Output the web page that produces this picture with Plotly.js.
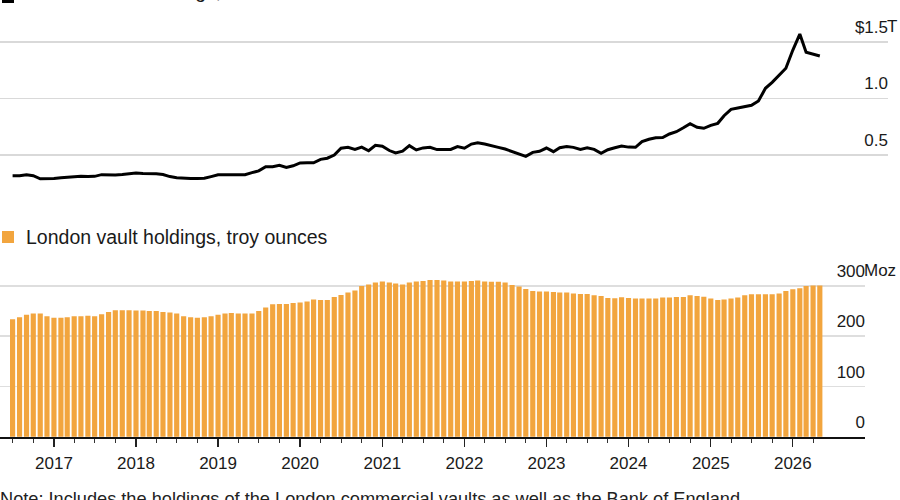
<!DOCTYPE html>
<html>
<head>
<meta charset="utf-8">
<script src="https://cdn.plot.ly/plotly-3.0.1.min.js"></script>
<style>
  html, body { margin: 0; padding: 0; background: #ffffff; }
  #chart { width: 900px; height: 500px; }
</style>
</head>
<body>
<div id="chart"></div>
<script>
// Monthly series, first month July 2016
const firstMonth = { year: 2016, month: 7 };

// Value of the holdings, trillions of US dollars
const valueTrillions = [
  0.318, 0.318, 0.327, 0.318, 0.290, 0.289, 0.293, 0.300, 0.305, 0.312, 0.313, 0.310,
  0.312, 0.327, 0.325, 0.325, 0.328, 0.335, 0.341, 0.337, 0.337, 0.334, 0.328, 0.310,
  0.300, 0.294, 0.292, 0.292, 0.295, 0.310, 0.326, 0.327, 0.325, 0.324, 0.326, 0.345,
  0.360, 0.397, 0.397, 0.410, 0.390, 0.405, 0.430, 0.432, 0.432, 0.462, 0.472, 0.500,
  0.560, 0.568, 0.550, 0.570, 0.538, 0.586, 0.578, 0.540, 0.518, 0.535, 0.583, 0.545,
  0.563, 0.568, 0.548, 0.550, 0.550, 0.575, 0.560, 0.597, 0.609, 0.597, 0.580, 0.568,
  0.553, 0.533, 0.509, 0.489, 0.524, 0.533, 0.562, 0.530, 0.565, 0.575, 0.568, 0.550,
  0.565, 0.550, 0.515, 0.547, 0.565, 0.580, 0.570, 0.568, 0.618, 0.639, 0.652, 0.655,
  0.686, 0.706, 0.741, 0.777, 0.745, 0.736, 0.762, 0.780, 0.847, 0.903, 0.915, 0.927,
  0.939, 0.977, 1.089, 1.142, 1.204, 1.266, 1.427, 1.568, 1.407, 1.392, 1.374
];

// London vault holdings, millions of troy ounces
const holdingsMoz = [
  234, 238, 243, 245, 245, 240, 237, 237, 238, 240, 240, 241,
  240, 244, 248, 251.5, 251.5, 251.5, 251, 251, 250, 250, 248, 247,
  245, 240, 238, 237, 238, 240, 243, 245, 246, 245, 245, 245,
  250, 257, 263.5, 264, 264, 266, 267, 269, 273, 272, 272, 278,
  282, 287, 291, 300, 303, 307, 309, 307, 305, 303, 307, 309,
  310, 312, 312, 311, 309, 309, 309, 310, 311, 309, 308.5, 308.5,
  307, 302, 299, 294, 290, 289, 289, 288, 287, 287, 285, 284,
  284, 281.5, 280, 276, 275.5, 277.5, 276, 275, 275, 275, 275, 277,
  277, 278, 278, 281.5, 280, 278.5, 275, 272, 273, 275, 277, 281.5,
  283.5, 283.5, 283.5, 283.5, 285, 290, 293.5, 295.5, 300, 301, 301
];

// Axis labels
const yearTicks = ['2017', '2018', '2019', '2020', '2021', '2022', '2023', '2024', '2025', '2026'];
const valueTickVals = [0.5, 1.0, 1.5];
const valueTickText = ['0.5', '1.0', '$1.5'];
const ozTickVals = [0, 100, 200, 300];
const ozTickText = ['0', '100', '200', '300'];

const valueLegendText = 'London vault holdings, value';
const holdingsLegendText = 'London vault holdings, troy ounces';
const noteText = 'Note: Includes the holdings of the London commercial vaults as well as the Bank of England';

const lineColor = '#000000';
const barColor = '#F2A53E';

// Month dates for both series
function pad(n) { return (n < 10 ? '0' : '') + n; }
const months = holdingsMoz.map((_, i) => {
  const m0 = firstMonth.month - 1 + i;
  const y = firstMonth.year + Math.floor(m0 / 12);
  return y + '-' + pad((m0 % 12) + 1) + '-01';
});

// Quarterly minor ticks within the data span
const quarterTicks = months.filter(d => ['01', '04', '07', '10'].includes(d.slice(5, 7)));
const yearTickVals = yearTicks.map(y => y + '-01-01');

// Shared time scale: both panels use the same pixels per day
const bottomRight = 865 / 900;
const topRight = 888 / 900;
const t0 = Date.parse('2016-05-06T00:00:00Z');
const t1 = Date.parse('2026-11-18T00:00:00Z');
const tTop = t0 + (t1 - t0) * (topRight / bottomRight);
function fmt(t) { return new Date(t).toISOString().replace('T', ' ').replace('Z', ''); }

const font = 'Liberation Sans, Arial, Helvetica, sans-serif';
const ink = '#1a1a1a';

const traces = [
  {
    type: 'scatter',
    mode: 'lines',
    x: months,
    y: valueTrillions,
    xaxis: 'x',
    yaxis: 'y',
    line: { color: lineColor, width: 3, shape: 'linear' },
    showlegend: false,
    hoverinfo: 'skip'
  },
  {
    type: 'bar',
    x: months,
    y: holdingsMoz,
    xaxis: 'x2',
    yaxis: 'y2',
    name: holdingsLegendText,
    marker: { color: barColor, line: { width: 0 } },
    showlegend: false,
    hoverinfo: 'skip'
  }
];

const valueAxisStyle = {
  side: 'right',
  ticks: '',
  showline: false,
  zeroline: false,
  showgrid: true,
  gridcolor: '#d9d9d9',
  gridwidth: 1.5,
  ticklabelposition: 'inside top',
  ticklabelstandoff: -3,
  ticklabelshift: -3,
  tickfont: { family: font, size: 17, color: ink },
  tickmode: 'array'
};

// Legend key: coloured square followed by its label
function legendKey(color, label, yPage, boxYShift) {
  return [
    {
      text: '\u00a0',
      xref: 'paper', x: 2 / 900, xanchor: 'left',
      yref: 'paper', y: 1 - yPage / 500, yanchor: 'middle', yshift: boxYShift || 0,
      width: 12, height: 12, borderpad: 0, borderwidth: 0,
      bgcolor: color,
      showarrow: false,
      font: { family: font, size: 8, color: color }
    },
    {
      text: label,
      xref: 'paper', x: 24 / 900, xanchor: 'left',
      yref: 'paper', y: 1 - yPage / 500, yanchor: 'middle',
      showarrow: false,
      font: { family: font, size: 19.5, color: ink }
    }
  ];
}

const layout = {
  width: 900,
  height: 500,
  margin: { l: 0, r: 0, t: 0, b: 0, pad: 0 },
  paper_bgcolor: '#ffffff',
  plot_bgcolor: 'rgba(0,0,0,0)',
  showlegend: false,
  bargap: 0.18,
  font: { family: font, color: ink },
  xaxis: {
    type: 'date',
    domain: [0, topRight],
    range: [fmt(t0), fmt(tTop)],
    anchor: 'y',
    showticklabels: false,
    showgrid: false,
    zeroline: false,
    showline: false,
    ticks: ''
  },
  yaxis: Object.assign({}, valueAxisStyle, {
    domain: [1 - 190 / 500, 1 - 8 / 500],
    range: [0.1915, 1.798],
    anchor: 'x',
    tickvals: valueTickVals,
    ticktext: valueTickText
  }),
  xaxis2: {
    type: 'date',
    domain: [0, bottomRight],
    range: [fmt(t0), fmt(t1)],
    anchor: 'y2',
    showgrid: false,
    zeroline: false,
    showline: true,
    linecolor: '#111111',
    linewidth: 1.5,
    ticks: 'outside',
    ticklen: 8,
    tickwidth: 1.3,
    tickcolor: '#222222',
    tickmode: 'array',
    tickvals: yearTickVals,
    ticktext: yearTicks,
    tickfont: { family: font, size: 17, color: ink },
    ticklabelstandoff: 2,
    minor: {
      tickmode: 'array',
      tickvals: quarterTicks,
      ticks: 'outside',
      ticklen: 4,
      tickwidth: 1,
      tickcolor: '#333333',
      showgrid: false
    }
  },
  yaxis2: Object.assign({}, valueAxisStyle, {
    domain: [1 - 437.2 / 500, 1 - 255 / 500],
    range: [-1, 361.7],
    anchor: 'x2',
    tickvals: ozTickVals,
    ticktext: ozTickText,
    gridcolor: '#dedede'
  }),
  annotations: [
    {
      text: 'T',
      xref: 'paper', x: topRight, xanchor: 'left', xshift: -3,
      yref: 'y', y: 1.5, yanchor: 'bottom', yshift: 4,
      showarrow: false,
      font: { family: font, size: 17, color: ink }
    },
    {
      text: 'Moz',
      xref: 'paper', x: bottomRight, xanchor: 'left', xshift: -3,
      yref: 'y2', y: 300, yanchor: 'bottom', yshift: 4,
      showarrow: false,
      font: { family: font, size: 17, color: ink }
    }
  ]
    .concat(legendKey(lineColor, valueLegendText, -9, -6))
    .concat(legendKey(barColor, holdingsLegendText, 237, 0))
    .concat([
      {
        text: noteText,
        xref: 'paper', x: -0.002, xanchor: 'left',
        yref: 'paper', y: 1 - 487 / 500, yanchor: 'top',
        showarrow: false,
        font: { family: font, size: 18.2, color: '#222222' }
      }
    ])
};

Plotly.newPlot('chart', traces, layout, { staticPlot: true, displayModeBar: false });
</script>
</body>
</html>
